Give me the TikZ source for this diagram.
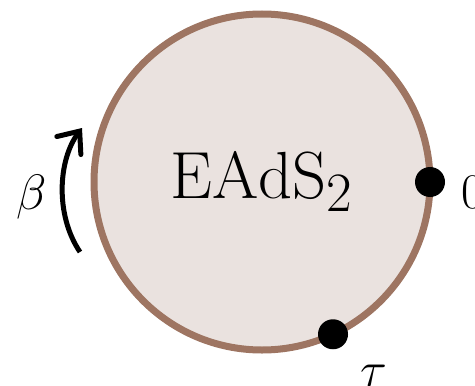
\documentclass[tikz,border=0pt]{standalone}
\usepackage{amsmath}
\usepackage{graphicx}
\usepackage{xcolor}
\usetikzlibrary{arrows.meta,positioning}
\definecolor{eadsfill}{RGB}{234,226,223}
\definecolor{eadsedge}{RGB}{158,117,98}

\begin{document}
\begin{tikzpicture}[x=0.5pt,y=-0.5pt]
  \tikzset{disk/.style={circle,draw=eadsedge,fill=eadsfill,line width=3.5pt,minimum size=168pt,inner sep=0pt,outer sep=0pt,font=\fontsize{24.88}{30}\selectfont},
    bdot/.style={circle,fill=black,minimum size=15pt,inner sep=0pt,outer sep=0pt},
    lab/.style={font=\fontsize{24.88}{28}\selectfont,inner sep=0pt},
    rot/.style={line width=2.5pt,-{Straight Barb[length=9pt,width=15pt,line cap=round]}}}
  \useasboundingbox (0,0) rectangle (475,385);
  \node[disk] (eads) at (262,182) {\scalebox{1.34}{$\mathrm{EAdS}_2$}};
  \node[bdot] (zero) at (eads.0) {};
  \node[bdot] (tau) at (eads.-65) {};
  \node[lab,right=8pt of zero,yshift=-5pt] (zlab) {$0$};
  \node[lab,below right=10pt and 8pt of tau] (tlab) {$\tau$};
  \coordinate (abot) at (80,252);
  \coordinate (atop) at (82,128);
  \coordinate (bmid) at (61,197);
  \node[lab,left=7pt of bmid] (blab) {$\beta$};
  \draw[rot] (abot) .. controls (55,215) and (58,160) .. (atop);
\end{tikzpicture}
\end{document}
